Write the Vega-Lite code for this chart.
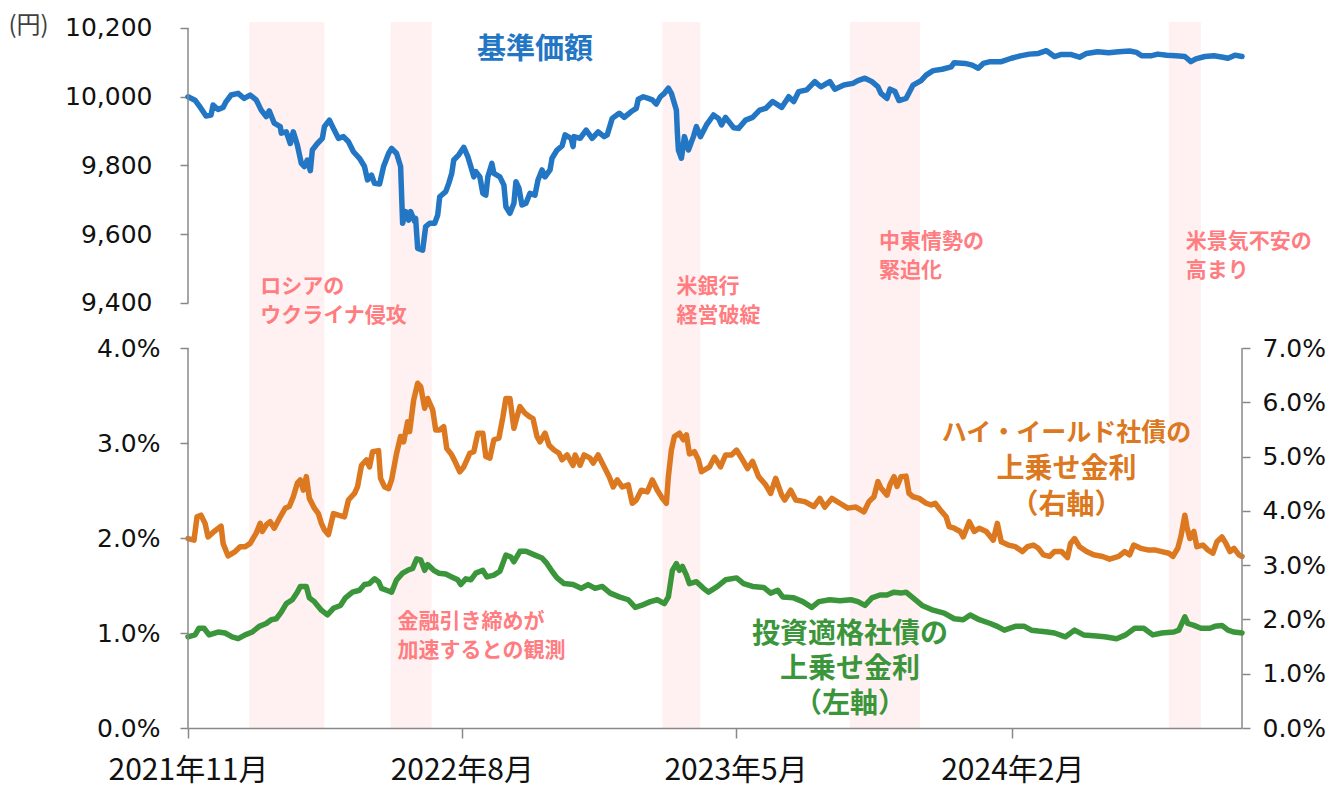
{
"$schema":"https://vega.github.io/schema/vega-lite/v6.json",
"width":1054,"height":706,
"autosize":{"type":"none"},
"padding":{"left":188,"top":22,"right":95,"bottom":59},
"background":"white",
"config":{"view":{"stroke":null},"axis":{"grid":false},"font":"Noto Sans CJK JP"},
"datasets":{
"bands":[{"s":"2022-01-01","e":"2022-03-17"},{"s":"2022-05-22","e":"2022-07-02"},{"s":"2023-02-17","e":"2023-03-27"},{"s":"2023-08-23","e":"2023-11-01"},{"s":"2024-07-06","e":"2024-08-07"}],
"nav":[{"d":"2021-11-01","v":10000},{"d":"2021-11-08","v":9990},{"d":"2021-11-14","v":9966},{"d":"2021-11-19","v":9944},{"d":"2021-11-24","v":9947},{"d":"2021-11-26","v":9976},{"d":"2021-12-01","v":9963},{"d":"2021-12-06","v":9969},{"d":"2021-12-09","v":9986},{"d":"2021-12-14","v":10005},{"d":"2021-12-21","v":10010},{"d":"2021-12-27","v":9995},{"d":"2022-01-02","v":10005},{"d":"2022-01-08","v":9991},{"d":"2022-01-13","v":9961},{"d":"2022-01-18","v":9942},{"d":"2022-01-21","v":9959},{"d":"2022-01-26","v":9923},{"d":"2022-02-01","v":9913},{"d":"2022-02-02","v":9894},{"d":"2022-02-07","v":9898},{"d":"2022-02-11","v":9864},{"d":"2022-02-14","v":9898},{"d":"2022-02-18","v":9860},{"d":"2022-02-22","v":9806},{"d":"2022-02-25","v":9797},{"d":"2022-02-28","v":9816},{"d":"2022-03-03","v":9785},{"d":"2022-03-05","v":9845},{"d":"2022-03-10","v":9864},{"d":"2022-03-15","v":9879},{"d":"2022-03-17","v":9913},{"d":"2022-03-22","v":9932},{"d":"2022-03-26","v":9908},{"d":"2022-03-31","v":9879},{"d":"2022-04-05","v":9884},{"d":"2022-04-10","v":9869},{"d":"2022-04-15","v":9840},{"d":"2022-04-21","v":9821},{"d":"2022-04-26","v":9797},{"d":"2022-04-29","v":9758},{"d":"2022-05-03","v":9772},{"d":"2022-05-06","v":9748},{"d":"2022-05-11","v":9746},{"d":"2022-05-15","v":9797},{"d":"2022-05-20","v":9835},{"d":"2022-05-23","v":9850},{"d":"2022-05-28","v":9835},{"d":"2022-06-01","v":9797},{"d":"2022-06-03","v":9632},{"d":"2022-06-06","v":9666},{"d":"2022-06-09","v":9641},{"d":"2022-06-11","v":9666},{"d":"2022-06-15","v":9637},{"d":"2022-06-16","v":9646},{"d":"2022-06-18","v":9559},{"d":"2022-06-23","v":9554},{"d":"2022-06-26","v":9622},{"d":"2022-06-30","v":9632},{"d":"2022-07-05","v":9632},{"d":"2022-07-08","v":9656},{"d":"2022-07-10","v":9709},{"d":"2022-07-16","v":9724},{"d":"2022-07-19","v":9748},{"d":"2022-07-22","v":9777},{"d":"2022-07-24","v":9816},{"d":"2022-07-29","v":9831},{"d":"2022-08-03","v":9853},{"d":"2022-08-07","v":9826},{"d":"2022-08-10","v":9797},{"d":"2022-08-13","v":9767},{"d":"2022-08-15","v":9782},{"d":"2022-08-19","v":9767},{"d":"2022-08-22","v":9719},{"d":"2022-08-25","v":9714},{"d":"2022-08-27","v":9767},{"d":"2022-08-31","v":9806},{"d":"2022-09-02","v":9777},{"d":"2022-09-08","v":9767},{"d":"2022-09-12","v":9743},{"d":"2022-09-14","v":9680},{"d":"2022-09-18","v":9661},{"d":"2022-09-22","v":9690},{"d":"2022-09-24","v":9753},{"d":"2022-09-27","v":9734},{"d":"2022-09-30","v":9685},{"d":"2022-10-04","v":9690},{"d":"2022-10-08","v":9719},{"d":"2022-10-13","v":9714},{"d":"2022-10-16","v":9758},{"d":"2022-10-20","v":9787},{"d":"2022-10-23","v":9767},{"d":"2022-10-28","v":9787},{"d":"2022-10-30","v":9821},{"d":"2022-11-04","v":9845},{"d":"2022-11-09","v":9857},{"d":"2022-11-12","v":9889},{"d":"2022-11-18","v":9879},{"d":"2022-11-20","v":9855},{"d":"2022-11-21","v":9884},{"d":"2022-11-27","v":9879},{"d":"2022-12-03","v":9903},{"d":"2022-12-09","v":9879},{"d":"2022-12-15","v":9898},{"d":"2022-12-21","v":9884},{"d":"2022-12-24","v":9889},{"d":"2022-12-29","v":9937},{"d":"2023-01-05","v":9952},{"d":"2023-01-10","v":9940},{"d":"2023-01-17","v":9957},{"d":"2023-01-22","v":9966},{"d":"2023-01-24","v":9993},{"d":"2023-01-29","v":10000},{"d":"2023-02-03","v":9995},{"d":"2023-02-07","v":9991},{"d":"2023-02-11","v":9979},{"d":"2023-02-15","v":10000},{"d":"2023-02-19","v":10010},{"d":"2023-02-23","v":10025},{"d":"2023-02-26","v":10010},{"d":"2023-03-03","v":9961},{"d":"2023-03-04","v":9894},{"d":"2023-03-05","v":9845},{"d":"2023-03-08","v":9821},{"d":"2023-03-11","v":9884},{"d":"2023-03-15","v":9845},{"d":"2023-03-20","v":9884},{"d":"2023-03-23","v":9913},{"d":"2023-03-27","v":9884},{"d":"2023-04-02","v":9918},{"d":"2023-04-09","v":9947},{"d":"2023-04-14","v":9937},{"d":"2023-04-17","v":9918},{"d":"2023-04-21","v":9940},{"d":"2023-04-29","v":9910},{"d":"2023-05-04","v":9908},{"d":"2023-05-11","v":9932},{"d":"2023-05-18","v":9940},{"d":"2023-05-25","v":9961},{"d":"2023-05-31","v":9966},{"d":"2023-06-07","v":9986},{"d":"2023-06-16","v":9969},{"d":"2023-06-23","v":10000},{"d":"2023-06-28","v":9986},{"d":"2023-07-03","v":10015},{"d":"2023-07-11","v":10020},{"d":"2023-07-19","v":10044},{"d":"2023-07-25","v":10029},{"d":"2023-08-03","v":10044},{"d":"2023-08-08","v":10022},{"d":"2023-08-17","v":10034},{"d":"2023-08-26","v":10039},{"d":"2023-08-31","v":10047},{"d":"2023-09-07","v":10054},{"d":"2023-09-14","v":10044},{"d":"2023-09-20","v":10029},{"d":"2023-09-23","v":10010},{"d":"2023-09-29","v":9995},{"d":"2023-10-02","v":10022},{"d":"2023-10-07","v":10015},{"d":"2023-10-11","v":9989},{"d":"2023-10-18","v":9995},{"d":"2023-10-25","v":10034},{"d":"2023-11-02","v":10047},{"d":"2023-11-07","v":10063},{"d":"2023-11-14","v":10076},{"d":"2023-11-23","v":10080},{"d":"2023-12-02","v":10087},{"d":"2023-12-05","v":10099},{"d":"2023-12-16","v":10097},{"d":"2023-12-23","v":10092},{"d":"2023-12-29","v":10083},{"d":"2024-01-03","v":10097},{"d":"2024-01-10","v":10102},{"d":"2024-01-21","v":10102},{"d":"2024-01-31","v":10112},{"d":"2024-02-09","v":10119},{"d":"2024-02-18","v":10124},{"d":"2024-02-27","v":10126},{"d":"2024-03-06","v":10134},{"d":"2024-03-14","v":10117},{"d":"2024-03-21","v":10123},{"d":"2024-03-30","v":10123},{"d":"2024-04-08","v":10115},{"d":"2024-04-15","v":10126},{"d":"2024-04-26","v":10131},{"d":"2024-05-07","v":10128},{"d":"2024-05-17","v":10131},{"d":"2024-05-28","v":10133},{"d":"2024-06-04","v":10129},{"d":"2024-06-09","v":10119},{"d":"2024-06-18","v":10119},{"d":"2024-06-25","v":10124},{"d":"2024-07-04","v":10121},{"d":"2024-07-13","v":10119},{"d":"2024-07-22","v":10117},{"d":"2024-07-28","v":10102},{"d":"2024-08-02","v":10110},{"d":"2024-08-11","v":10117},{"d":"2024-08-20","v":10119},{"d":"2024-08-29","v":10115},{"d":"2024-09-03","v":10112},{"d":"2024-09-10","v":10121},{"d":"2024-09-17","v":10117}],
"hy":[{"d":"2021-11-01","v":3.49},{"d":"2021-11-07","v":3.46},{"d":"2021-11-10","v":3.89},{"d":"2021-11-14","v":3.92},{"d":"2021-11-18","v":3.77},{"d":"2021-11-21","v":3.52},{"d":"2021-11-27","v":3.62},{"d":"2021-12-04","v":3.72},{"d":"2021-12-06","v":3.40},{"d":"2021-12-11","v":3.17},{"d":"2021-12-18","v":3.25},{"d":"2021-12-23","v":3.34},{"d":"2021-12-28","v":3.34},{"d":"2022-01-02","v":3.40},{"d":"2022-01-08","v":3.59},{"d":"2022-01-12","v":3.77},{"d":"2022-01-14","v":3.62},{"d":"2022-01-18","v":3.74},{"d":"2022-01-22","v":3.80},{"d":"2022-01-26","v":3.68},{"d":"2022-02-01","v":3.89},{"d":"2022-02-06","v":4.05},{"d":"2022-02-10","v":4.08},{"d":"2022-02-14","v":4.26},{"d":"2022-02-18","v":4.51},{"d":"2022-02-21","v":4.57},{"d":"2022-02-24","v":4.38},{"d":"2022-02-27","v":4.63},{"d":"2022-03-02","v":4.23},{"d":"2022-03-07","v":4.05},{"d":"2022-03-11","v":3.95},{"d":"2022-03-14","v":3.77},{"d":"2022-03-17","v":3.65},{"d":"2022-03-21","v":3.56},{"d":"2022-03-26","v":3.95},{"d":"2022-03-31","v":3.92},{"d":"2022-04-06","v":3.89},{"d":"2022-04-10","v":4.20},{"d":"2022-04-16","v":4.32},{"d":"2022-04-19","v":4.44},{"d":"2022-04-23","v":4.84},{"d":"2022-04-28","v":4.94},{"d":"2022-05-01","v":4.81},{"d":"2022-05-04","v":5.09},{"d":"2022-05-10","v":5.11},{"d":"2022-05-12","v":4.60},{"d":"2022-05-16","v":4.44},{"d":"2022-05-20","v":4.41},{"d":"2022-05-23","v":4.57},{"d":"2022-05-28","v":5.06},{"d":"2022-06-01","v":5.37},{"d":"2022-06-04","v":5.27},{"d":"2022-06-08","v":5.64},{"d":"2022-06-10","v":5.46},{"d":"2022-06-14","v":6.04},{"d":"2022-06-18","v":6.35},{"d":"2022-06-21","v":6.29},{"d":"2022-06-25","v":5.89},{"d":"2022-06-28","v":6.07},{"d":"2022-07-03","v":5.86},{"d":"2022-07-06","v":5.49},{"d":"2022-07-10","v":5.49},{"d":"2022-07-14","v":5.55},{"d":"2022-07-17","v":5.15},{"d":"2022-07-22","v":5.03},{"d":"2022-07-26","v":4.88},{"d":"2022-07-30","v":4.72},{"d":"2022-08-03","v":4.81},{"d":"2022-08-09","v":5.06},{"d":"2022-08-13","v":5.09},{"d":"2022-08-17","v":5.43},{"d":"2022-08-22","v":5.43},{"d":"2022-08-25","v":5.00},{"d":"2022-08-29","v":4.97},{"d":"2022-09-02","v":5.31},{"d":"2022-09-07","v":5.34},{"d":"2022-09-11","v":5.73},{"d":"2022-09-14","v":6.07},{"d":"2022-09-18","v":6.07},{"d":"2022-09-22","v":5.52},{"d":"2022-09-25","v":5.73},{"d":"2022-09-28","v":5.92},{"d":"2022-10-03","v":5.80},{"d":"2022-10-08","v":5.73},{"d":"2022-10-11","v":5.70},{"d":"2022-10-15","v":5.37},{"d":"2022-10-18","v":5.27},{"d":"2022-10-23","v":5.43},{"d":"2022-10-27","v":5.21},{"d":"2022-11-01","v":5.12},{"d":"2022-11-06","v":5.06},{"d":"2022-11-09","v":4.94},{"d":"2022-11-14","v":5.03},{"d":"2022-11-20","v":4.84},{"d":"2022-11-22","v":5.03},{"d":"2022-11-27","v":4.84},{"d":"2022-12-01","v":5.03},{"d":"2022-12-07","v":4.97},{"d":"2022-12-10","v":4.88},{"d":"2022-12-15","v":5.03},{"d":"2022-12-21","v":4.81},{"d":"2022-12-26","v":4.63},{"d":"2022-12-30","v":4.44},{"d":"2023-01-03","v":4.57},{"d":"2023-01-08","v":4.44},{"d":"2023-01-14","v":4.48},{"d":"2023-01-18","v":4.14},{"d":"2023-01-22","v":4.20},{"d":"2023-01-27","v":4.38},{"d":"2023-02-02","v":4.35},{"d":"2023-02-07","v":4.57},{"d":"2023-02-12","v":4.38},{"d":"2023-02-17","v":4.23},{"d":"2023-02-21","v":4.14},{"d":"2023-02-23","v":4.63},{"d":"2023-02-26","v":5.12},{"d":"2023-03-01","v":5.37},{"d":"2023-03-06","v":5.43},{"d":"2023-03-10","v":5.31},{"d":"2023-03-13","v":5.40},{"d":"2023-03-16","v":5.05},{"d":"2023-03-21","v":5.09},{"d":"2023-03-25","v":4.94},{"d":"2023-03-28","v":4.72},{"d":"2023-04-05","v":4.81},{"d":"2023-04-10","v":4.99},{"d":"2023-04-16","v":4.81},{"d":"2023-04-21","v":5.03},{"d":"2023-04-27","v":5.03},{"d":"2023-05-02","v":5.12},{"d":"2023-05-07","v":4.97},{"d":"2023-05-13","v":4.78},{"d":"2023-05-18","v":4.91},{"d":"2023-05-24","v":4.63},{"d":"2023-05-31","v":4.48},{"d":"2023-06-05","v":4.32},{"d":"2023-06-10","v":4.60},{"d":"2023-06-16","v":4.29},{"d":"2023-06-19","v":4.20},{"d":"2023-06-25","v":4.38},{"d":"2023-06-30","v":4.20},{"d":"2023-07-09","v":4.17},{"d":"2023-07-18","v":4.08},{"d":"2023-07-24","v":4.23},{"d":"2023-07-29","v":4.07},{"d":"2023-08-05","v":4.23},{"d":"2023-08-13","v":4.14},{"d":"2023-08-21","v":4.05},{"d":"2023-08-29","v":4.07},{"d":"2023-09-06","v":3.98},{"d":"2023-09-11","v":4.17},{"d":"2023-09-16","v":4.26},{"d":"2023-09-20","v":4.54},{"d":"2023-09-23","v":4.42},{"d":"2023-09-29","v":4.29},{"d":"2023-10-02","v":4.48},{"d":"2023-10-06","v":4.63},{"d":"2023-10-09","v":4.45},{"d":"2023-10-13","v":4.63},{"d":"2023-10-18","v":4.64},{"d":"2023-10-21","v":4.32},{"d":"2023-10-25","v":4.26},{"d":"2023-10-31","v":4.23},{"d":"2023-11-07","v":4.14},{"d":"2023-11-12","v":4.11},{"d":"2023-11-16","v":4.14},{"d":"2023-11-21","v":4.02},{"d":"2023-11-27","v":3.89},{"d":"2023-11-30","v":3.71},{"d":"2023-12-05","v":3.68},{"d":"2023-12-11","v":3.62},{"d":"2023-12-14","v":3.52},{"d":"2023-12-20","v":3.80},{"d":"2023-12-25","v":3.62},{"d":"2023-12-30","v":3.68},{"d":"2024-01-06","v":3.62},{"d":"2024-01-13","v":3.46},{"d":"2024-01-17","v":3.77},{"d":"2024-01-21","v":3.43},{"d":"2024-01-28","v":3.37},{"d":"2024-02-04","v":3.34},{"d":"2024-02-11","v":3.25},{"d":"2024-02-16","v":3.34},{"d":"2024-02-22","v":3.37},{"d":"2024-02-27","v":3.31},{"d":"2024-03-03","v":3.19},{"d":"2024-03-09","v":3.16},{"d":"2024-03-14","v":3.25},{"d":"2024-03-21","v":3.25},{"d":"2024-03-27","v":3.14},{"d":"2024-03-30","v":3.40},{"d":"2024-04-03","v":3.49},{"d":"2024-04-08","v":3.34},{"d":"2024-04-15","v":3.25},{"d":"2024-04-22","v":3.19},{"d":"2024-05-01","v":3.16},{"d":"2024-05-08","v":3.11},{"d":"2024-05-17","v":3.16},{"d":"2024-05-23","v":3.25},{"d":"2024-05-28","v":3.19},{"d":"2024-06-01","v":3.37},{"d":"2024-06-08","v":3.31},{"d":"2024-06-15","v":3.28},{"d":"2024-06-22","v":3.28},{"d":"2024-06-29","v":3.25},{"d":"2024-07-06","v":3.22},{"d":"2024-07-10","v":3.16},{"d":"2024-07-15","v":3.31},{"d":"2024-07-18","v":3.52},{"d":"2024-07-22","v":3.92},{"d":"2024-07-24","v":3.71},{"d":"2024-07-27","v":3.49},{"d":"2024-07-31","v":3.62},{"d":"2024-08-03","v":3.34},{"d":"2024-08-09","v":3.37},{"d":"2024-08-14","v":3.28},{"d":"2024-08-19","v":3.22},{"d":"2024-08-23","v":3.43},{"d":"2024-08-28","v":3.52},{"d":"2024-09-01","v":3.40},{"d":"2024-09-05","v":3.25},{"d":"2024-09-09","v":3.31},{"d":"2024-09-14","v":3.19},{"d":"2024-09-17","v":3.16}],
"ig":[{"d":"2021-11-01","v":0.96},{"d":"2021-11-08","v":0.98},{"d":"2021-11-12","v":1.05},{"d":"2021-11-17","v":1.05},{"d":"2021-11-22","v":0.98},{"d":"2021-12-01","v":1.01},{"d":"2021-12-08","v":1.00},{"d":"2021-12-15","v":0.96},{"d":"2021-12-21","v":0.94},{"d":"2021-12-28","v":0.98},{"d":"2022-01-04","v":1.01},{"d":"2022-01-11","v":1.07},{"d":"2022-01-18","v":1.10},{"d":"2022-01-23","v":1.14},{"d":"2022-01-28","v":1.15},{"d":"2022-02-02","v":1.22},{"d":"2022-02-07","v":1.31},{"d":"2022-02-13","v":1.35},{"d":"2022-02-18","v":1.43},{"d":"2022-02-21","v":1.49},{"d":"2022-02-27","v":1.49},{"d":"2022-03-02","v":1.37},{"d":"2022-03-07","v":1.33},{"d":"2022-03-14","v":1.24},{"d":"2022-03-20","v":1.19},{"d":"2022-03-26","v":1.26},{"d":"2022-04-02","v":1.29},{"d":"2022-04-07","v":1.37},{"d":"2022-04-14","v":1.43},{"d":"2022-04-21","v":1.45},{"d":"2022-04-26","v":1.51},{"d":"2022-05-01","v":1.52},{"d":"2022-05-06","v":1.57},{"d":"2022-05-10","v":1.54},{"d":"2022-05-13","v":1.47},{"d":"2022-05-18","v":1.45},{"d":"2022-05-23","v":1.43},{"d":"2022-05-28","v":1.56},{"d":"2022-06-03","v":1.63},{"d":"2022-06-08","v":1.66},{"d":"2022-06-13","v":1.68},{"d":"2022-06-17","v":1.78},{"d":"2022-06-21","v":1.77},{"d":"2022-06-25","v":1.66},{"d":"2022-06-28","v":1.72},{"d":"2022-07-04","v":1.66},{"d":"2022-07-09","v":1.63},{"d":"2022-07-16","v":1.62},{"d":"2022-07-22","v":1.59},{"d":"2022-07-28","v":1.56},{"d":"2022-07-31","v":1.51},{"d":"2022-08-05","v":1.57},{"d":"2022-08-10","v":1.56},{"d":"2022-08-15","v":1.63},{"d":"2022-08-22","v":1.66},{"d":"2022-08-26","v":1.59},{"d":"2022-09-02","v":1.61},{"d":"2022-09-08","v":1.65},{"d":"2022-09-14","v":1.82},{"d":"2022-09-19","v":1.80},{"d":"2022-09-22","v":1.75},{"d":"2022-09-28","v":1.86},{"d":"2022-10-04","v":1.86},{"d":"2022-10-13","v":1.82},{"d":"2022-10-20","v":1.79},{"d":"2022-10-25","v":1.73},{"d":"2022-10-30","v":1.65},{"d":"2022-11-04","v":1.58},{"d":"2022-11-11","v":1.52},{"d":"2022-11-20","v":1.51},{"d":"2022-11-28","v":1.47},{"d":"2022-12-05","v":1.51},{"d":"2022-12-12","v":1.47},{"d":"2022-12-19","v":1.49},{"d":"2022-12-27","v":1.42},{"d":"2023-01-05","v":1.38},{"d":"2023-01-14","v":1.35},{"d":"2023-01-21","v":1.27},{"d":"2023-01-27","v":1.29},{"d":"2023-02-05","v":1.33},{"d":"2023-02-12","v":1.35},{"d":"2023-02-19","v":1.31},{"d":"2023-02-23","v":1.38},{"d":"2023-02-27","v":1.66},{"d":"2023-03-03","v":1.73},{"d":"2023-03-06","v":1.66},{"d":"2023-03-09","v":1.70},{"d":"2023-03-13","v":1.61},{"d":"2023-03-16","v":1.52},{"d":"2023-03-23","v":1.54},{"d":"2023-03-30","v":1.47},{"d":"2023-04-04","v":1.43},{"d":"2023-04-13","v":1.49},{"d":"2023-04-21","v":1.56},{"d":"2023-05-02","v":1.58},{"d":"2023-05-09","v":1.52},{"d":"2023-05-18","v":1.49},{"d":"2023-05-29","v":1.48},{"d":"2023-06-05","v":1.42},{"d":"2023-06-12","v":1.45},{"d":"2023-06-17","v":1.38},{"d":"2023-06-28","v":1.37},{"d":"2023-07-07","v":1.33},{"d":"2023-07-16","v":1.27},{"d":"2023-07-23","v":1.33},{"d":"2023-08-03","v":1.35},{"d":"2023-08-13","v":1.34},{"d":"2023-08-24","v":1.35},{"d":"2023-08-31","v":1.33},{"d":"2023-09-07","v":1.29},{"d":"2023-09-14","v":1.37},{"d":"2023-09-22","v":1.40},{"d":"2023-09-29","v":1.40},{"d":"2023-10-06","v":1.43},{"d":"2023-10-13","v":1.42},{"d":"2023-10-18","v":1.43},{"d":"2023-10-25","v":1.37},{"d":"2023-11-03","v":1.29},{"d":"2023-11-14","v":1.24},{"d":"2023-11-25","v":1.21},{"d":"2023-12-05","v":1.15},{"d":"2023-12-14","v":1.14},{"d":"2023-12-21","v":1.19},{"d":"2023-12-30","v":1.14},{"d":"2024-01-10","v":1.10},{"d":"2024-01-17","v":1.07},{"d":"2024-01-24","v":1.03},{"d":"2024-02-04","v":1.07},{"d":"2024-02-13","v":1.07},{"d":"2024-02-20","v":1.03},{"d":"2024-02-27","v":1.02},{"d":"2024-03-07","v":1.01},{"d":"2024-03-14","v":1.00},{"d":"2024-03-25","v":0.96},{"d":"2024-04-03","v":1.03},{"d":"2024-04-12","v":0.98},{"d":"2024-04-22","v":0.97},{"d":"2024-05-03","v":0.96},{"d":"2024-05-15","v":0.94},{"d":"2024-05-24","v":0.98},{"d":"2024-06-02","v":1.05},{"d":"2024-06-11","v":1.05},{"d":"2024-06-20","v":0.98},{"d":"2024-06-29","v":1.00},{"d":"2024-07-11","v":1.01},{"d":"2024-07-16","v":1.03},{"d":"2024-07-22","v":1.17},{"d":"2024-07-25","v":1.10},{"d":"2024-07-31","v":1.08},{"d":"2024-08-07","v":1.05},{"d":"2024-08-16","v":1.05},{"d":"2024-08-21","v":1.07},{"d":"2024-08-28","v":1.08},{"d":"2024-09-03","v":1.03},{"d":"2024-09-09","v":1.01},{"d":"2024-09-17","v":1.00}]
},
"layer":[
{"data":{"name":"bands"},"mark":{"type":"rect","color":"#FFF1F1"},
 "encoding":{
  "x":{"field":"s","type":"temporal","title":null,
   "scale":{"domain":[{"year":2021,"month":11,"date":1},{"year":2024,"month":9,"date":17}]},
   "axis":{"title":null,"values":[{"year":2021,"month":11,"date":1},{"year":2022,"month":8,"date":1},{"year":2023,"month":5,"date":1},{"year":2024,"month":2,"date":1}],
    "format":"%Y年%-m月","labelFont":"Noto Sans CJK JP","labelFontSize":30,"labelColor":"#111111","labelPadding":17,"labelFlush":false,"labelOverlap":false,
    "tickSize":10,"tickColor":"#888888","tickWidth":1.5,"domainColor":"#888888","domainWidth":1.5,"grid":false,"zindex":1}},
  "x2":{"field":"e"}}},
{"data":{"name":"nav"},"mark":{"type":"line","color":"#2276C4","strokeWidth":5.5,"strokeCap":"round","strokeJoin":"round"},
 "encoding":{
  "x":{"field":"d","type":"temporal"},
  "y":{"field":"v","type":"quantitative","scale":{"domain":[8163.6,10217.45],"nice":false,"zero":false},
   "axis":{"orient":"left","values":[9400,9600,9800,10000,10200],"format":",.0f","domain":false,"grid":false,"tickSize":8,"tickColor":"#888888","tickWidth":1.5,
    "labelFont":"DejaVu Sans","labelFontSize":25,"labelColor":"#111111","labelPadding":28,
    "title":"(円)","titleFont":"Noto Sans CJK JP","titleFontSize":24,"titleFontWeight":"normal","titleColor":"#404040","titleAngle":0,"titleAlign":"left","titleBaseline":"middle","titleX":-180,"titleY":3}}}},
{"data":{"values":[{}]},"mark":{"type":"rule","color":"#888888","strokeWidth":1.5},
 "encoding":{
  "x":{"datum":{"year":2021,"month":11,"date":1},"type":"temporal"},
  "y":{"datum":9400,"type":"quantitative","scale":{"domain":[8163.6,10217.45],"nice":false,"zero":false},"axis":null},
  "y2":{"datum":10200}}},
{"data":{"name":"hy"},"mark":{"type":"line","color":"#DB7820","strokeWidth":5.5,"strokeCap":"round","strokeJoin":"round"},
 "encoding":{
  "x":{"field":"d","type":"temporal"},
  "y":{"field":"v","type":"quantitative","scale":{"domain":[0,13.0053],"nice":false,"zero":false},
   "axis":{"orient":"right","values":[0,1,2,3,4,5,6,7],"labelExpr":"format(datum.value,'.1f')+'%'","domain":false,"grid":false,"tickSize":8,"tickColor":"#888888","tickWidth":1.5,
    "labelFont":"DejaVu Sans","labelFontSize":25,"labelColor":"#111111","labelPadding":12,"title":null}}}},
{"data":{"values":[{}]},"mark":{"type":"rule","color":"#888888","strokeWidth":1.5},
 "encoding":{
  "x":{"datum":{"year":2024,"month":9,"date":17},"type":"temporal"},
  "y":{"datum":0,"type":"quantitative","scale":{"domain":[0,13.0053],"nice":false,"zero":false},"axis":null},
  "y2":{"datum":7}}},
{"data":{"name":"ig"},"mark":{"type":"line","color":"#3B963B","strokeWidth":5.5,"strokeCap":"round","strokeJoin":"round"},
 "encoding":{
  "x":{"field":"d","type":"temporal"},
  "y":{"field":"v","type":"quantitative","scale":{"domain":[0,7.4316],"nice":false,"zero":false},
   "axis":{"orient":"left","values":[0,1,2,3,4],"labelExpr":"format(datum.value,'.1f')+'%'","domain":false,"grid":false,"tickSize":8,"tickColor":"#888888","tickWidth":1.5,
    "labelFont":"DejaVu Sans","labelFontSize":25,"labelColor":"#111111","labelPadding":20,"title":null}}}},
{"data":{"values":[{}]},"mark":{"type":"rule","color":"#888888","strokeWidth":1.5},
 "encoding":{
  "x":{"datum":{"year":2021,"month":11,"date":1},"type":"temporal"},
  "y":{"datum":0,"type":"quantitative","scale":{"domain":[0,7.4316],"nice":false,"zero":false},"axis":null},
  "y2":{"datum":4}}},
{"data":{"values":[{}]},"mark":{"type":"text","text":"基準価額","font":"Noto Sans CJK JP","fontSize":29,"fontWeight":"bold","color":"#2276C4","align":"center","baseline":"middle"},
 "encoding":{"x":{"datum":{"year":2022,"month":10,"date":13},"type":"temporal"},"y":{"datum":7.137,"type":"quantitative","scale":{"domain":[0,7.4316],"nice":false,"zero":false},"axis":null}}},
{"data":{"values":[{}]},"mark":{"type":"text","text":["ロシアの","ウクライナ侵攻"],"font":"Noto Sans CJK JP","fontSize":21,"fontWeight":"bold","color":"#FF7C80","align":"left","baseline":"middle","lineHeight":29},
 "encoding":{"x":{"datum":{"year":2022,"month":1,"date":12},"type":"temporal"},"y":{"datum":4.642,"type":"quantitative","scale":{"domain":[0,7.4316],"nice":false,"zero":false},"axis":null}}},
{"data":{"values":[{}]},"mark":{"type":"text","text":["米銀行","経営破綻"],"font":"Noto Sans CJK JP","fontSize":21,"fontWeight":"bold","color":"#FF7C80","align":"left","baseline":"middle","lineHeight":29},
 "encoding":{"x":{"datum":{"year":2023,"month":3,"date":3},"type":"temporal"},"y":{"datum":4.642,"type":"quantitative","scale":{"domain":[0,7.4316],"nice":false,"zero":false},"axis":null}}},
{"data":{"values":[{}]},"mark":{"type":"text","text":["中東情勢の","緊迫化"],"font":"Noto Sans CJK JP","fontSize":21,"fontWeight":"bold","color":"#FF7C80","align":"left","baseline":"middle","lineHeight":29},
 "encoding":{"x":{"datum":{"year":2023,"month":9,"date":21},"type":"temporal"},"y":{"datum":5.116,"type":"quantitative","scale":{"domain":[0,7.4316],"nice":false,"zero":false},"axis":null}}},
{"data":{"values":[{}]},"mark":{"type":"text","text":["米景気不安の","高まり"],"font":"Noto Sans CJK JP","fontSize":21,"fontWeight":"bold","color":"#FF7C80","align":"left","baseline":"middle","lineHeight":29},
 "encoding":{"x":{"datum":{"year":2024,"month":7,"date":23},"type":"temporal"},"y":{"datum":5.116,"type":"quantitative","scale":{"domain":[0,7.4316],"nice":false,"zero":false},"axis":null}}},
{"data":{"values":[{}]},"mark":{"type":"text","text":["金融引き締めが","加速するとの観測"],"font":"Noto Sans CJK JP","fontSize":21,"fontWeight":"bold","color":"#FF7C80","align":"left","baseline":"middle","lineHeight":29},
 "encoding":{"x":{"datum":{"year":2022,"month":5,"date":29},"type":"temporal"},"y":{"datum":1.116,"type":"quantitative","scale":{"domain":[0,7.4316],"nice":false,"zero":false},"axis":null}}},
{"data":{"values":[{}]},"mark":{"type":"text","text":"ハイ・イールド社債の","font":"Noto Sans CJK JP","fontSize":25,"fontWeight":"bold","color":"#DB7820","align":"center","baseline":"middle"},
 "encoding":{"x":{"datum":{"year":2024,"month":3,"date":26},"type":"temporal"},"y":{"datum":3.105,"type":"quantitative","scale":{"domain":[0,7.4316],"nice":false,"zero":false},"axis":null}}},
{"data":{"values":[{}]},"mark":{"type":"text","text":["上乗せ金利","（右軸）"],"font":"Noto Sans CJK JP","fontSize":28,"fontWeight":"bold","color":"#DB7820","align":"center","baseline":"middle","lineHeight":36},
 "encoding":{"x":{"datum":{"year":2024,"month":3,"date":26},"type":"temporal"},"y":{"datum":2.716,"type":"quantitative","scale":{"domain":[0,7.4316],"nice":false,"zero":false},"axis":null}}},
{"data":{"values":[{}]},"mark":{"type":"text","text":["投資適格社債の","上乗せ金利","（左軸）"],"font":"Noto Sans CJK JP","fontSize":28,"fontWeight":"bold","color":"#3B963B","align":"center","baseline":"middle","lineHeight":35},
 "encoding":{"x":{"datum":{"year":2023,"month":8,"date":23},"type":"temporal"},"y":{"datum":0.979,"type":"quantitative","scale":{"domain":[0,7.4316],"nice":false,"zero":false},"axis":null}}}
],
"resolve":{"scale":{"y":"independent"},"axis":{"y":"independent"}}
}
